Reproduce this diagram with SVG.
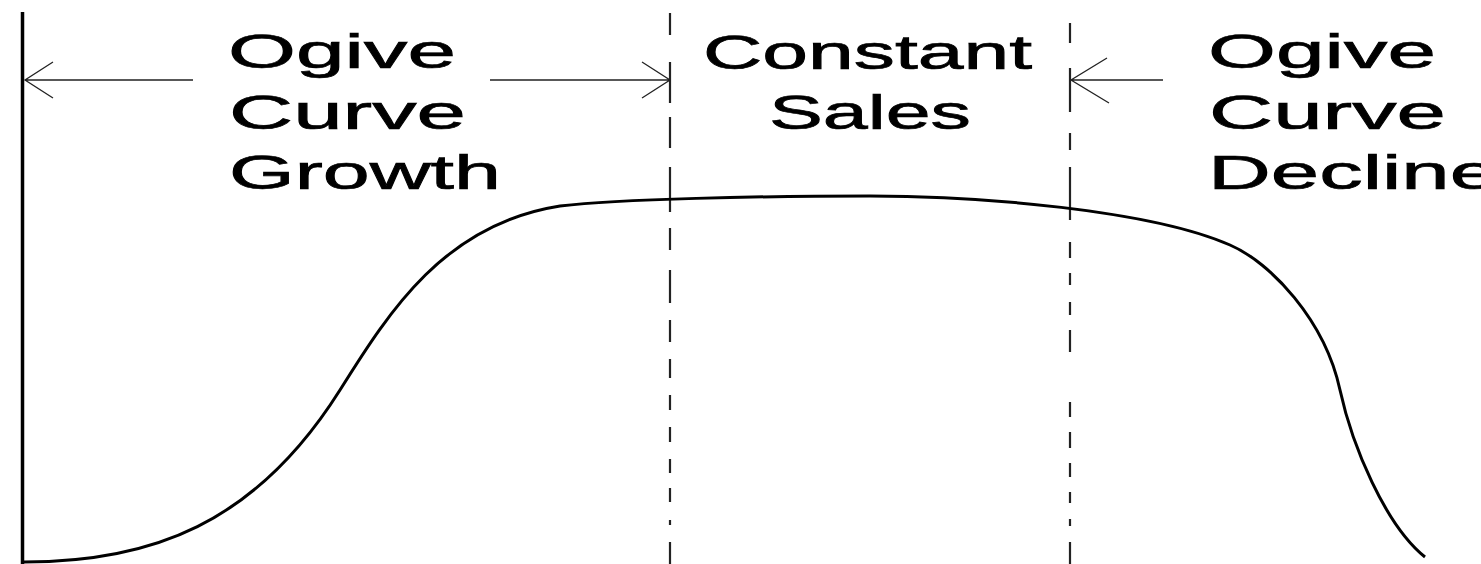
<svg xmlns="http://www.w3.org/2000/svg" width="1481" height="564" viewBox="0 0 1481 564">
<style>
.lbl{font-family:"Liberation Sans",Arial,sans-serif;font-size:48px;fill:#000;stroke:#000;stroke-width:0.7}
.arrow{stroke:#222;stroke-width:1.3;fill:none}
.div{stroke:#222;stroke-width:2.2;fill:none}
</style>
<rect width="1481" height="564" fill="#fff"/>
<g id="axis">
<line x1="22.5" y1="12" x2="22.5" y2="564" stroke="#000" stroke-width="3.5"/>
</g>
<g id="dividers">
<path class="div" d="M670 13V35M670 62V103M670 117V148M670 167V212M670 228V250M670 270V303M670 320V342M670 359V378M670 395V410M670 427V442M670 459V473M670 488V502M670 520V525M670 542V564"/>
<path class="div" d="M1070 23V43M1070 68V112M1070 133V150M1070 167V220M1070 242V258M1070 273V285M1070 302V315M1070 330V352M1070 402V417M1070 432V448M1070 463V477M1070 492V503M1070 519V526M1070 542V564"/>
</g>
<g id="curve">
<path d="M24 562 C150 562 255 525 340 390 C390 310 445 224 560 206 C620 199 760 196 870 196 C980 196 1150 210 1230 245 C1270 262 1325 320 1340 390 C1352 445 1385 525 1425 557" fill="none" stroke="#000" stroke-width="3"/>
</g>
<g id="connectors">
<path class="arrow" d="M193 80H25M53 62L25 80L53 98"/>
<path class="arrow" d="M490 80H670M642 62L670 80L642 98"/>
<path class="arrow" d="M1163 80H1071M1107 58L1071 80L1109 103"/>
</g>
<g id="label-growth">
<text class="lbl" x="228" y="68" textLength="228" lengthAdjust="spacingAndGlyphs">Ogive</text>
<text class="lbl" x="229" y="129" textLength="237" lengthAdjust="spacingAndGlyphs">Curve</text>
<text class="lbl" x="229" y="189" textLength="272" lengthAdjust="spacingAndGlyphs">Growth</text>
</g>
<g id="label-constant">
<text class="lbl" x="703" y="69" textLength="329" lengthAdjust="spacingAndGlyphs">Constant</text>
<text class="lbl" x="769" y="129" textLength="202" lengthAdjust="spacingAndGlyphs">Sales</text>
</g>
<g id="label-decline">
<text class="lbl" x="1208" y="68" textLength="228" lengthAdjust="spacingAndGlyphs">Ogive</text>
<text class="lbl" x="1209" y="129" textLength="237" lengthAdjust="spacingAndGlyphs">Curve</text>
<text class="lbl" x="1208" y="189" textLength="290" lengthAdjust="spacingAndGlyphs">Decline</text>
</g>
</svg>
